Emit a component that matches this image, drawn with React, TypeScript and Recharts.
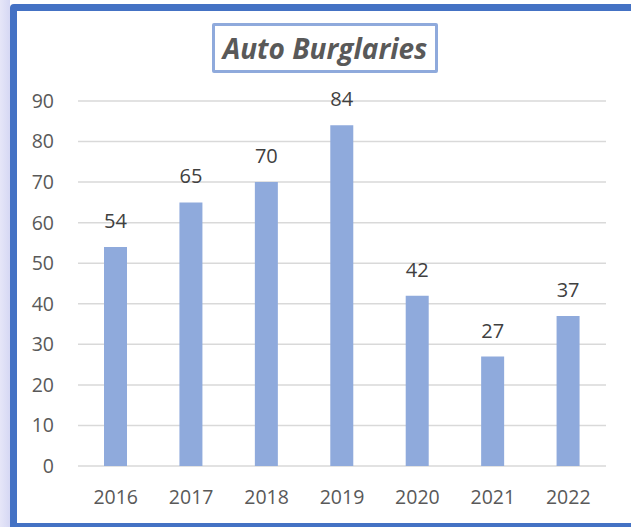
import { BarChart, Bar, XAxis, YAxis, CartesianGrid, LabelList } from 'recharts';

const years = ['2016', '2017', '2018', '2019', '2020', '2021', '2022'];
const burglaries = [54, 65, 70, 84, 42, 27, 37];
const yTicks = [0, 10, 20, 30, 40, 50, 60, 70, 80, 90];

const data = years.map((year, i) => ({ year, value: burglaries[i] }));

const FONT = '"Open Sans", sans-serif';

export default function App() {
  return (
    <div
      style={{
        position: 'absolute',
        left: 0,
        top: 0,
        width: 631,
        height: 527,
        overflow: 'hidden',
        background: '#ffffff',
        fontFamily: FONT,
      }}
    >
      {/* lavender strip left of the frame */}
      <div style={{ position: 'absolute', left: 0, top: 0, width: 10, height: 527, background: 'linear-gradient(90deg, #e6e6f8, #d6d8f4)' }} />
      {/* blue frame, right side runs off the picture */}
      <div
        style={{
          position: 'absolute',
          left: 10,
          top: 4,
          width: 640,
          height: 526,
          boxSizing: 'border-box',
          border: '7px solid #4472c4',
          borderRadius: 4,
          background: '#ffffff',
        }}
      />
      {/* title box */}
      <div
        style={{
          position: 'absolute',
          left: 212,
          top: 23,
          width: 226,
          height: 50,
          boxSizing: 'border-box',
          border: '3px solid #8faadc',
          borderRadius: 2,
          display: 'flex',
          alignItems: 'center',
          justifyContent: 'center',
          color: '#595959',
          fontSize: 28,
          fontWeight: 700,
          fontStyle: 'italic',
          whiteSpace: 'nowrap',
        }}
      >
        Auto Burglaries
      </div>
      <div style={{ position: 'absolute', left: 0, top: 0 }}>
        <BarChart width={631} height={527} data={data} margin={{ top: 101, right: 25, left: 0, bottom: 21 }}>
          <CartesianGrid vertical={false} stroke="#d9d9d9" strokeWidth={1.5} />
          <XAxis
            dataKey="year"
            axisLine={false}
            tickLine={false}
            tickSize={0}
            tickMargin={24}
            height={40}
            tick={{ fill: '#595959', fontSize: 19.5, fontFamily: FONT }}
          />
          <YAxis
            domain={[0, 90]}
            ticks={yTicks}
            interval={0}
            axisLine={false}
            tickLine={false}
            tickSize={0}
            tickMargin={24}
            width={78}
            tick={{ fill: '#595959', fontSize: 19.5, fontFamily: FONT }}
          />
          <Bar dataKey="value" fill="#8faadc" barSize={23} isAnimationActive={false}>
            <LabelList dataKey="value" position="top" offset={19} fill="#404040" fontSize={20} fontFamily={FONT} />
          </Bar>
        </BarChart>
      </div>
    </div>
  );
}
